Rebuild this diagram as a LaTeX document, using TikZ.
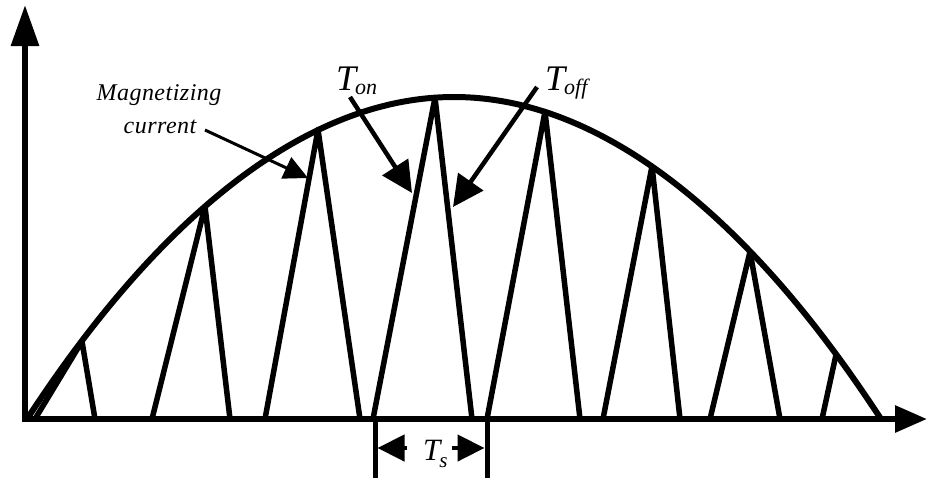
\documentclass[tikz,border=0pt]{standalone}
\usepackage{fontspec}
\setmainfont{Liberation Serif}
\usetikzlibrary{arrows.meta}
\newcommand\TwithSub[5]{{\fontsize{#1}{#1}\selectfont\itshape T}\kern#3\raisebox{#4}{\fontsize{#5}{#5}\selectfont\itshape #2}}
\begin{document}
\begin{tikzpicture}[x=1pt,y=-1pt,
  axisline/.style={line width=6pt, line join=miter},
  wave/.style={line width=5.5pt, line join=round},
  envelope/.style={line width=6pt},
  pointer/.style={line width=4.5pt, -{Triangle[length=31pt,width=30pt]}},
  thinpointer/.style={line width=3pt, -{Triangle[length=24pt,width=23pt]}},
  dimarrow/.style={line width=4.5pt, -{Triangle[length=27pt,width=26pt]}},
  tick/.style={line width=5pt},
  lbl/.style={inner sep=0pt, font=\fontsize{24}{24}\selectfont\itshape\addfontfeature{LetterSpace=2}}
]
\useasboundingbox (0,0) rectangle (928,480);

% axes
\coordinate (ytop) at (25,5);
\coordinate (origin) at (25,419);
\coordinate (xend) at (927,419);
\draw[axisline, {Triangle[length=41pt,width=27pt]}-{Triangle[length=32pt,width=26pt]}] (ytop) -- (origin) -- (xend);

% envelope (magnetizing current)
\coordinate (envL) at (27,419);
\coordinate (envTop) at (454,97);
\coordinate (envR) at (881,419);
\draw[envelope] (envL) parabola bend (envTop) (envR);

% switching triangles
\draw[wave] (35,419) -- (82,341.4) -- (95,419);
\draw[wave] (152,419) -- (205,206.5) -- (230,419);
\draw[wave] (265,419) -- (318,129.7) -- (360,419);
\draw[wave] (373,419) -- (435,97.6) -- (472,419);
\draw[wave] (487,419) -- (545,111.6) -- (580,419);
\draw[wave] (603,419) -- (652,166.2) -- (680,419);
\draw[wave] (710,419) -- (750,251.7) -- (780,419);
\draw[wave] (822,419) -- (836,354.7);

% labels
\node[lbl, anchor=base] (mag1) at (159,100) {Magnetizing};
\node[lbl, anchor=base] (mag2) at (160,133) {current};
\node[inner sep=0pt, anchor=base west] (ton) at (336,90) {\TwithSub{36}{on}{-1pt}{-4pt}{22}};
\node[inner sep=0pt, anchor=base west] (toff) at (545,90) {\TwithSub{36}{off}{-1pt}{-4pt}{22}};
\node[inner sep=0pt, anchor=base west] (ts) at (423,460) {\TwithSub{31}{s}{-1pt}{-7pt}{21}};

% pointer arrows
\coordinate (magA) at (205,130);
\coordinate (magB) at (308,178);
\draw[thinpointer] (magA) -- (magB);
\coordinate (tonA) at (350,97);
\coordinate (tonB) at (412,193);
\draw[pointer] (tonA) -- (tonB);
\coordinate (toffA) at (537,87);
\coordinate (toffB) at (453,207);
\draw[pointer] (toffA) -- (toffB);

% Ts dimension
\coordinate (tk1a) at (375,419);
\coordinate (tk1b) at (375,478);
\coordinate (tk2a) at (487,419);
\coordinate (tk2b) at (487,478);
\draw[tick] (tk1a) -- (tk1b);
\draw[tick] (tk2a) -- (tk2b);
\coordinate (dl0) at (407,448);
\coordinate (dl1) at (377.5,448);
\coordinate (dr0) at (452,448);
\coordinate (dr1) at (484.5,448);
\draw[dimarrow] (dl0) -- (dl1);
\draw[dimarrow] (dr0) -- (dr1);
\end{tikzpicture}
\end{document}
